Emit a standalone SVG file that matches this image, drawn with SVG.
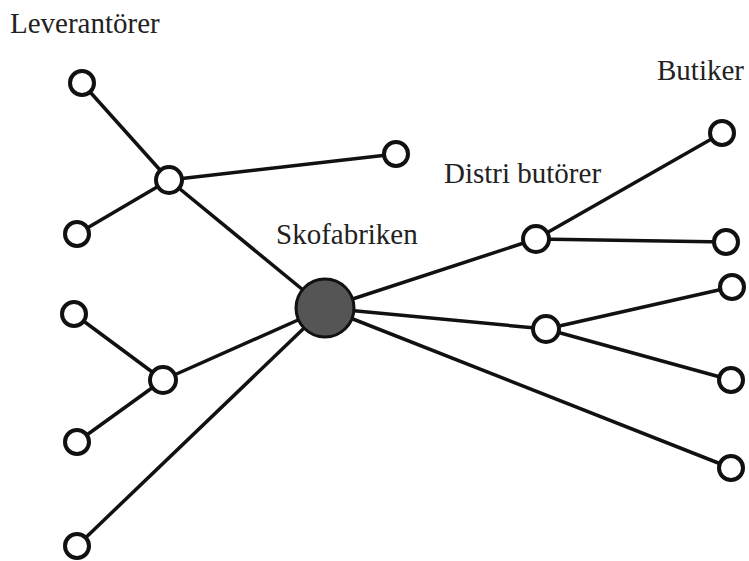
<svg xmlns="http://www.w3.org/2000/svg" width="749" height="561" viewBox="0 0 749 561">
<style>
.e{stroke:#111;stroke-width:3.5;fill:none}
.n{fill:#fff;stroke:#111;stroke-width:4}
.c{fill:#555;stroke:#111;stroke-width:3}
.t{font-family:"Liberation Serif","Times New Roman",serif;font-size:29px;fill:#222}
</style>
<rect width="749" height="561" fill="#fff"/>
<g id="connectors">
<line class="e" x1="82" y1="83" x2="169" y2="180"/>
<line class="e" x1="169" y1="180" x2="396" y2="154"/>
<line class="e" x1="169" y1="180" x2="77" y2="234"/>
<line class="e" x1="169" y1="180" x2="325" y2="308"/>
<line class="e" x1="74" y1="314" x2="163" y2="380"/>
<line class="e" x1="163" y1="380" x2="77" y2="442"/>
<line class="e" x1="163" y1="380" x2="325" y2="308"/>
<line class="e" x1="77" y1="546" x2="325" y2="308"/>
<line class="e" x1="325" y1="308" x2="536" y2="239"/>
<line class="e" x1="536" y1="239" x2="722" y2="133"/>
<line class="e" x1="536" y1="239" x2="726" y2="242"/>
<line class="e" x1="325" y1="308" x2="546" y2="329"/>
<line class="e" x1="546" y1="329" x2="732" y2="287"/>
<line class="e" x1="546" y1="329" x2="731" y2="380"/>
<line class="e" x1="325" y1="308" x2="731" y2="468"/>
</g>
<g id="L1"><circle class="n" cx="82" cy="83" r="12"/></g>
<g id="Lhub1"><circle class="n" cx="169" cy="180" r="13"/></g>
<g id="Lright"><circle class="n" cx="396" cy="154" r="12"/></g>
<g id="L2"><circle class="n" cx="77" cy="234" r="12"/></g>
<g id="L3"><circle class="n" cx="74" cy="314" r="12"/></g>
<g id="Lhub2"><circle class="n" cx="163" cy="380" r="13"/></g>
<g id="L4"><circle class="n" cx="77" cy="442" r="12"/></g>
<g id="L5"><circle class="n" cx="77" cy="546" r="12"/></g>
<g id="center"><circle class="c" cx="325" cy="308" r="29"/></g>
<g id="D1"><circle class="n" cx="536" cy="239" r="13"/></g>
<g id="D2"><circle class="n" cx="546" cy="329" r="13"/></g>
<g id="B1"><circle class="n" cx="722" cy="133" r="12"/></g>
<g id="B2"><circle class="n" cx="726" cy="242" r="12"/></g>
<g id="B3"><circle class="n" cx="732" cy="287" r="12"/></g>
<g id="B4"><circle class="n" cx="731" cy="380" r="12"/></g>
<g id="B5"><circle class="n" cx="731" cy="468" r="12"/></g>
<g id="labels">
<text class="t" x="10" y="33">Leverantörer</text>
<text class="t" x="657" y="80">Butiker</text>
<text class="t" x="444" y="183">Distri butörer</text>
<text class="t" x="276" y="244">Skofabriken</text>
</g>
</svg>
